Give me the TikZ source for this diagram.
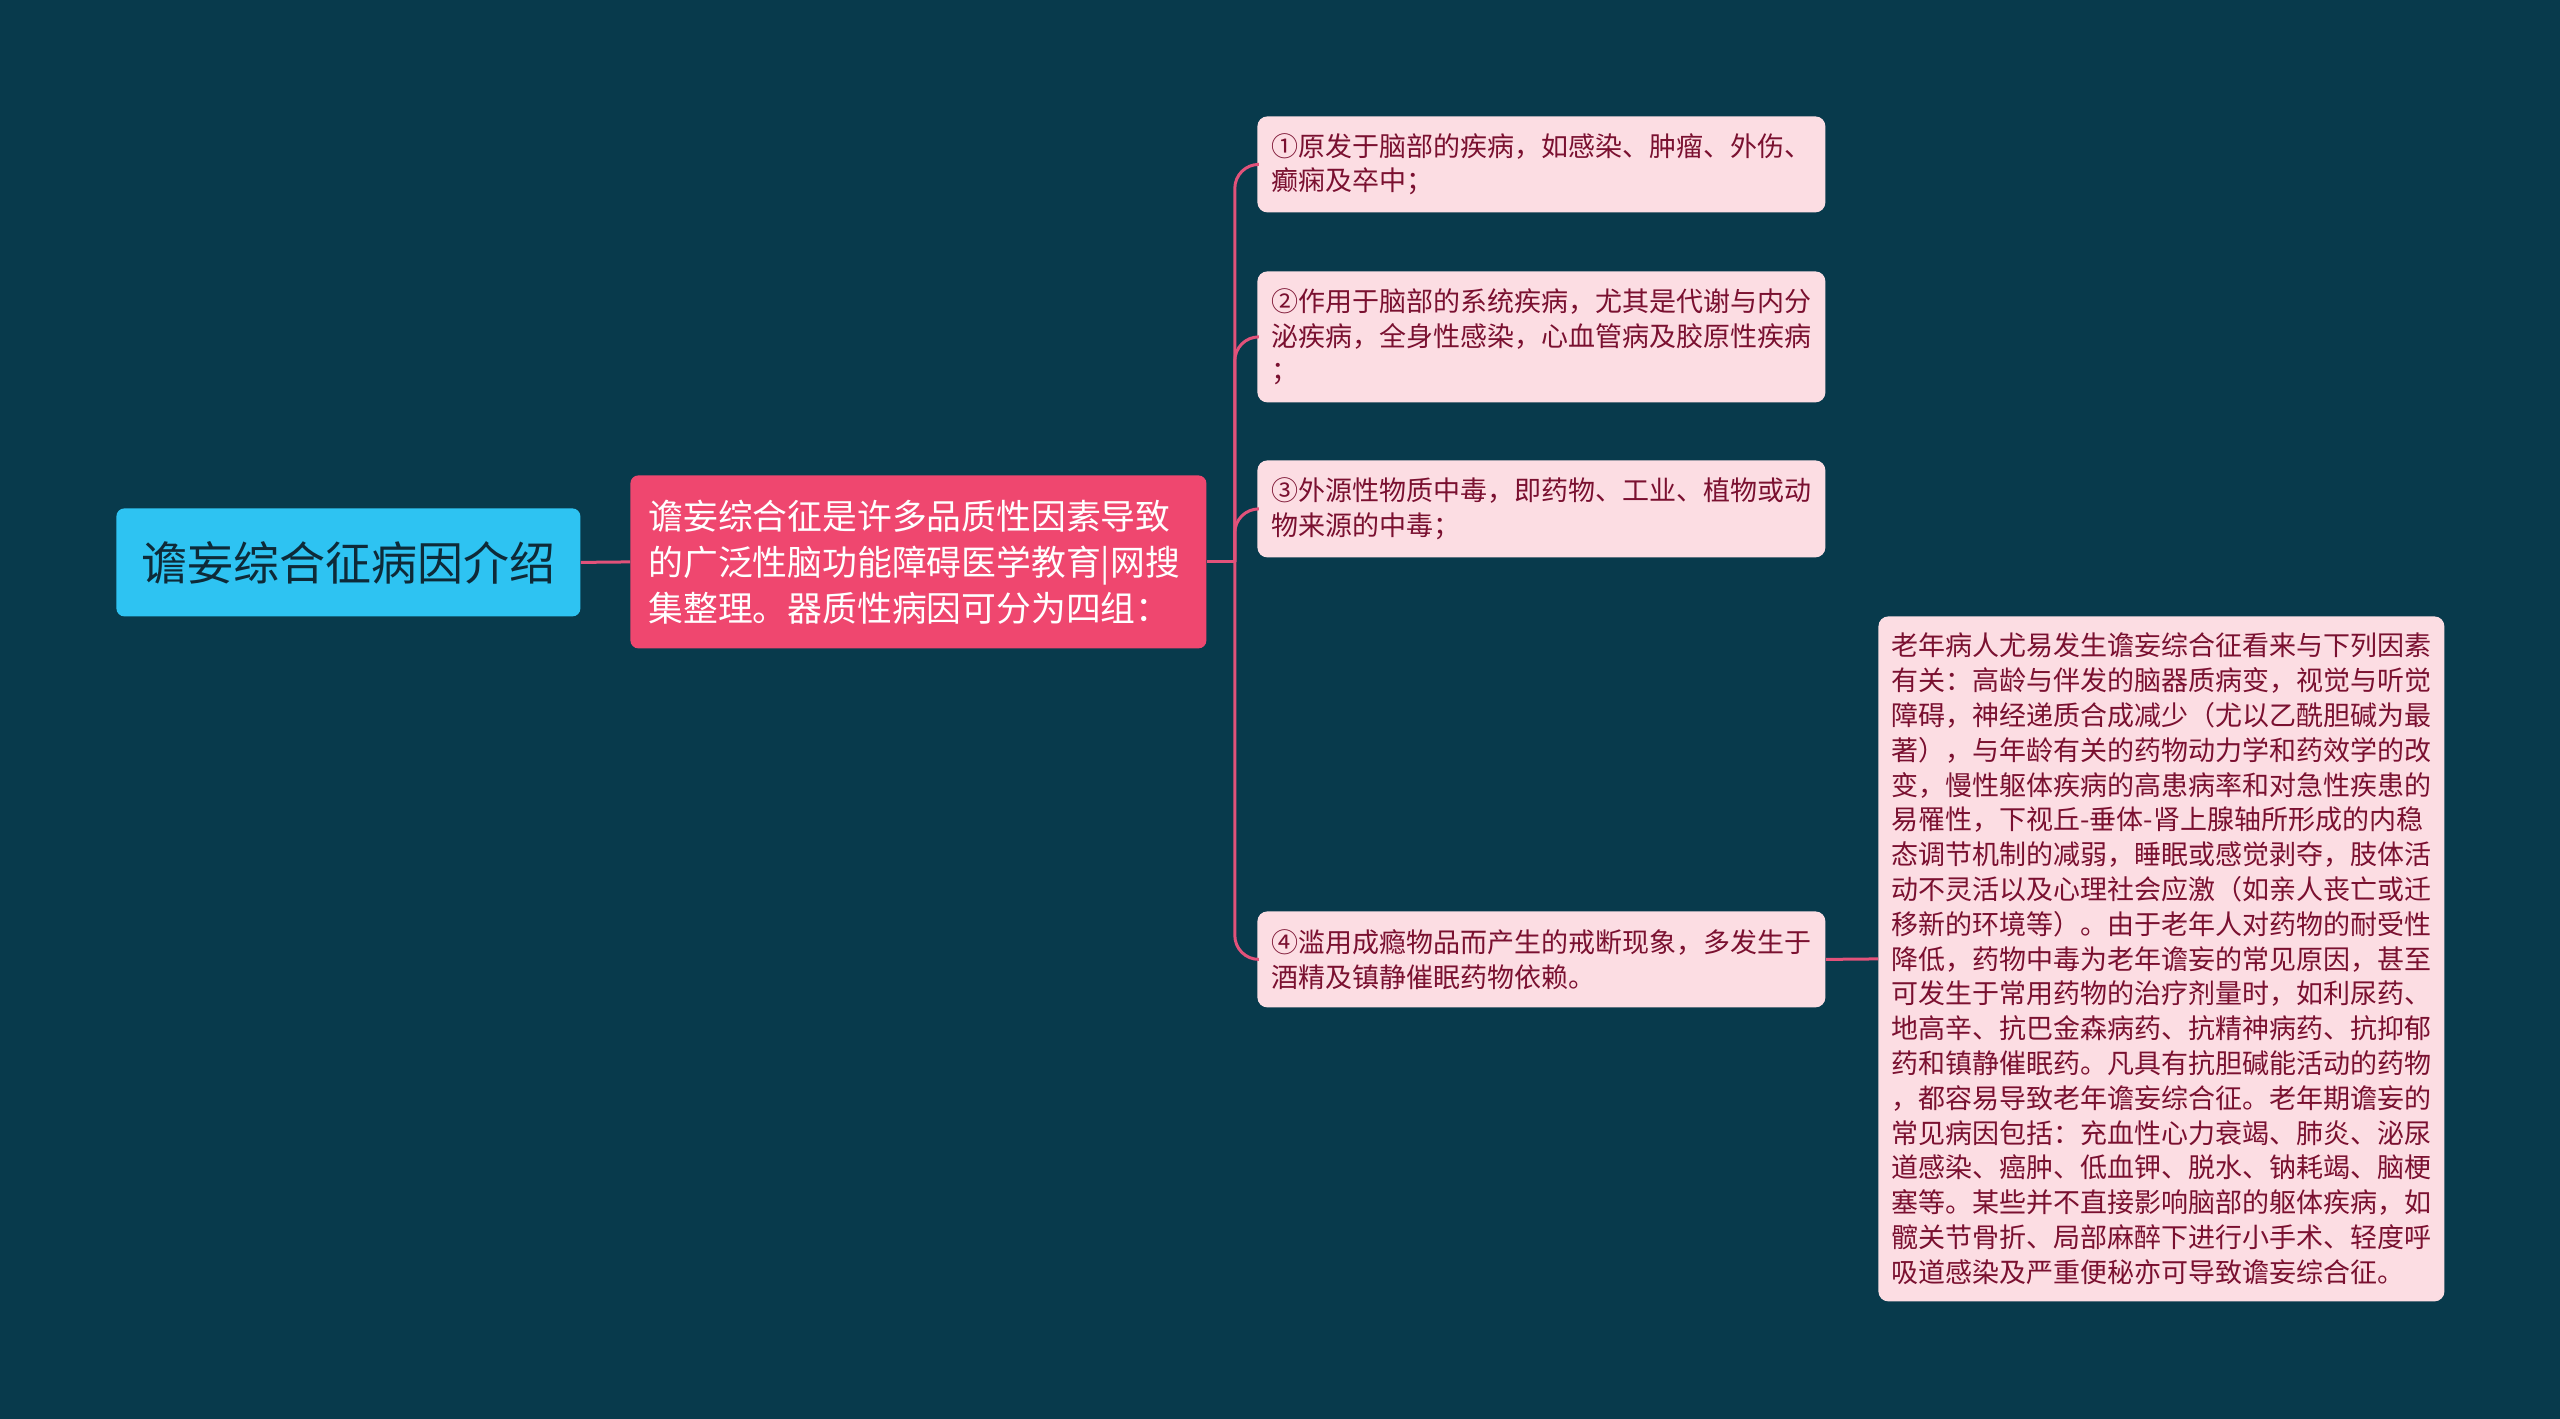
\documentclass[tikz,border=0pt]{standalone}
\usepackage{fontspec}
\setmainfont{Noto Sans CJK SC}
\usepackage{tikz}

\definecolor{bgteal}{RGB}{8,58,76}
\definecolor{rootcyan}{RGB}{46,195,242}
\definecolor{mainrose}{RGB}{239,71,111}
\definecolor{leafpink}{RGB}{252,221,227}
\definecolor{leafink}{RGB}{122,16,48}
\definecolor{rootink}{RGB}{14,42,56}
\definecolor{linkrose}{RGB}{226,82,122}

\begin{document}
\begin{tikzpicture}[x=0.5pt,y=0.5pt,yscale=-1,xscale=1,
    rootbox/.style={fill=rootcyan,rounded corners=4pt,anchor=north west,inner sep=0pt,
        minimum width=232pt,minimum height=54pt,text=rootink,font=\fontsize{23pt}{28pt}\selectfont},
    mainbox/.style={fill=mainrose,rounded corners=4pt,anchor=north west,inner xsep=9pt,inner ysep=0pt,
        minimum width=287.5pt,align=left,text width=270pt,text=white,font=\fontsize{17.4pt}{22.9pt}\selectfont},
    topicbox/.style={fill=leafpink,rounded corners=5pt,anchor=north west,inner xsep=7pt,inner ysep=0pt,
        minimum width=283.5pt,align=left,text width=270pt,text=leafink,font=\fontsize{13.5pt}{17.3pt}\selectfont},
    link/.style={draw=linkrose,line width=1.5pt}]
        \fill[bgteal] (0,0) rectangle (2560,1419);

        \node (root) at (116,508) [rootbox] {谵妄综合征病因介绍};
        \node (main) at (630,475) [mainbox,minimum height=86.5pt] {谵妄综合征是许多品质性因素导致\\的广泛性脑功能障碍医学教育|网搜\\集整理。器质性病因可分为四组：};

        \node (c1) at (1257,116) [topicbox,minimum height=48pt] {①原发于脑部的疾病，如感染、肿瘤、外伤、\\癫痫及卒中；};
        \node (c2) at (1257,271) [topicbox,minimum height=65.5pt] {②作用于脑部的系统疾病，尤其是代谢与内分\\泌疾病，全身性感染，心血管病及胶原性疾病\\；};
        \node (c3) at (1257,460) [topicbox,minimum height=48.5pt] {③外源性物质中毒，即药物、工业、植物或动\\物来源的中毒；};
        \node (c4) at (1257,911) [topicbox,minimum height=48pt] {④滥用成瘾物品而产生的戒断现象，多发生于\\酒精及镇静催眠药物依赖。};

        \node (elder) at (1878,616) [topicbox,minimum width=283pt,minimum height=342.5pt,inner xsep=6.5pt,font=\fontsize{13.5pt}{17.4pt}\selectfont] {老年病人尤易发生谵妄综合征看来与下列因素\\有关：高龄与伴发的脑器质病变，视觉与听觉\\障碍，神经递质合成减少（尤以乙酰胆碱为最\\著），与年龄有关的药物动力学和药效学的改\\变，慢性躯体疾病的高患病率和对急性疾患的\\易罹性，下视丘-垂体-肾上腺轴所形成的内稳\\态调节机制的减弱，睡眠或感觉剥夺，肢体活\\动不灵活以及心理社会应激（如亲人丧亡或迁\\移新的环境等）。由于老年人对药物的耐受性\\降低，药物中毒为老年谵妄的常见原因，甚至\\可发生于常用药物的治疗剂量时，如利尿药、\\地高辛、抗巴金森病药、抗精神病药、抗抑郁\\药和镇静催眠药。凡具有抗胆碱能活动的药物\\，都容易导致老年谵妄综合征。老年期谵妄的\\常见病因包括：充血性心力衰竭、肺炎、泌尿\\道感染、癌肿、低血钾、脱水、钠耗竭、脑梗\\塞等。某些并不直接影响脑部的躯体疾病，如\\髋关节骨折、局部麻醉下进行小手术、轻度呼\\吸道感染及严重便秘亦可导致谵妄综合征。};

        \coordinate (hub) at ([xshift=14pt]main.east);

        \draw[link] (root.east) -- (main.west);
        \draw[link] (main.east) -- (hub);
        \foreach \c in {c1,c2,c3,c4}
            \draw[link,rounded corners=12pt] (hub) |- (\c.west);
        \draw[link] (c4.east) -- (elder.west);
    \end{tikzpicture}
\end{document}
